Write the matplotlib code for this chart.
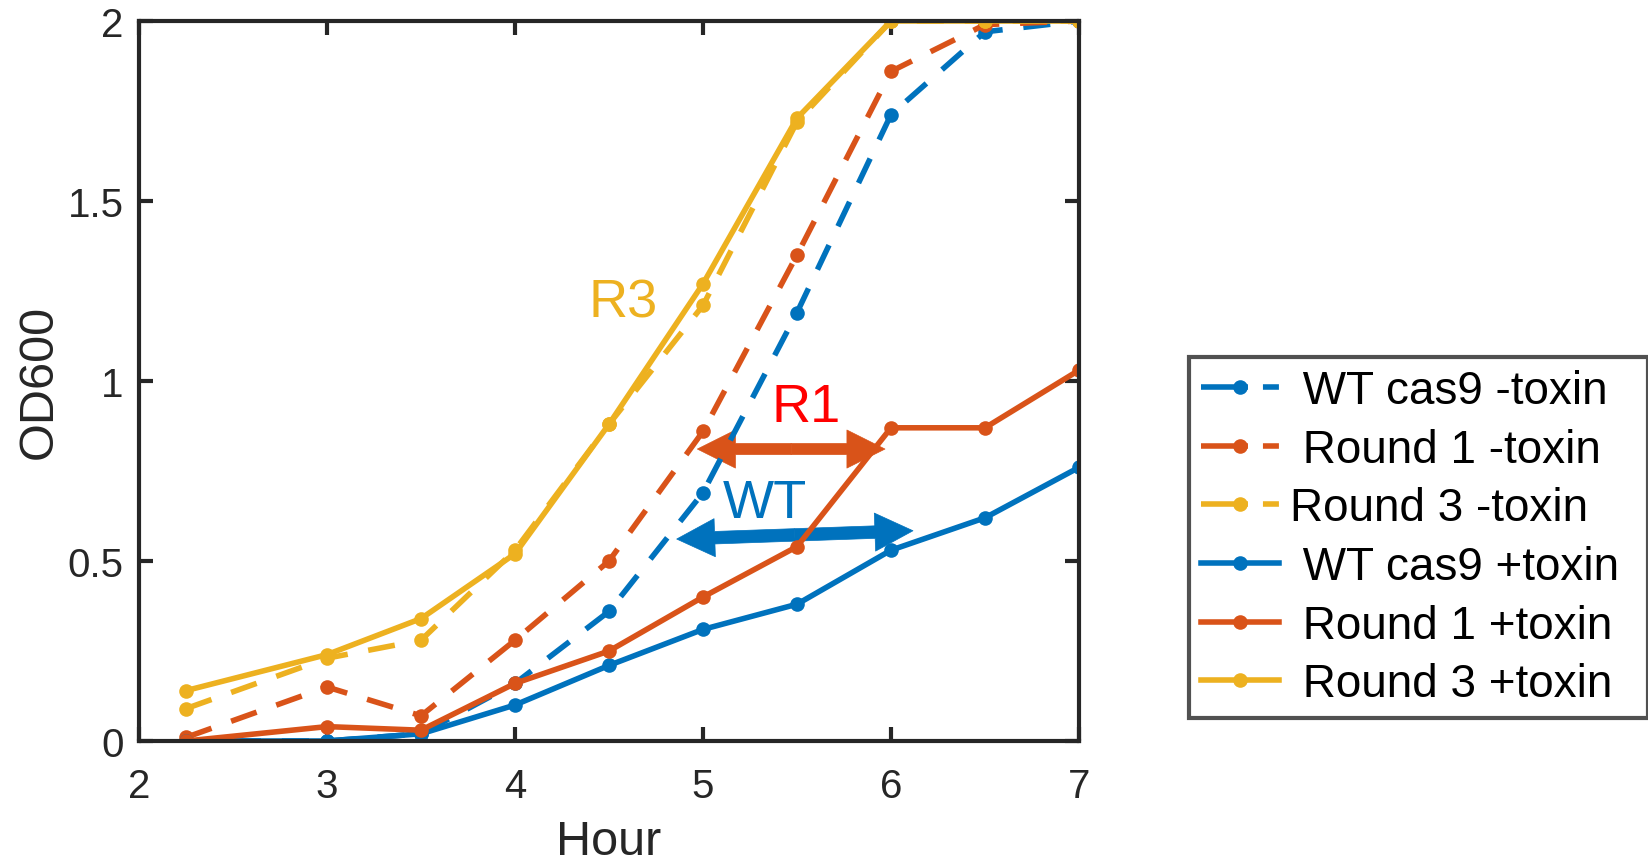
import matplotlib
matplotlib.use("Agg")
import matplotlib.pyplot as plt
from matplotlib.patches import FancyArrowPatch
from matplotlib.lines import Line2D

plt.rcParams['font.family'] = ['Liberation Sans', 'DejaVu Sans']
plt.rcParams['lines.scale_dashes'] = False

hours = [2.25, 3, 3.5, 4, 4.5, 5, 5.5, 6, 6.5, 7]
wt_minus = [0.0, 0.0, 0.02, 0.16, 0.36, 0.69, 1.19, 1.74, 1.97, 2.0]
r1_minus = [0.01, 0.15, 0.07, 0.28, 0.50, 0.86, 1.35, 1.86, 1.99, 2.0]
r3_minus = [0.09, 0.23, 0.28, 0.53, 0.88, 1.21, 1.72, 2.0, 2.0, 2.0]
wt_plus = [0.0, 0.0, 0.02, 0.10, 0.21, 0.31, 0.38, 0.53, 0.62, 0.76]
r1_plus = [0.0, 0.04, 0.03, 0.16, 0.25, 0.40, 0.54, 0.87, 0.87, 1.03]
r3_plus = [0.14, 0.24, 0.34, 0.52, 0.88, 1.27, 1.73, 2.0, 2.0, 2.0]

labels = [' WT cas9 -toxin', ' Round 1 -toxin', 'Round 3 -toxin',
          ' WT cas9 +toxin', ' Round 1 +toxin', ' Round 3 +toxin']

BLUE, ORANGE, YELLOW = '#0072BD', '#D95319', '#EDB120'
AX = '#262626'

fig = plt.figure(figsize=(16.49, 8.62), dpi=100)
ax = fig.add_axes([139/1649, 1-742/862, 940/1649, 720/862])

lw = 4.0
ms = 10.5
dash = (19.5, 15)
series = [
    (wt_minus, BLUE, True), (r1_minus, ORANGE, True), (r3_minus, YELLOW, True),
    (wt_plus, BLUE, False), (r1_plus, ORANGE, False), (r3_plus, YELLOW, False),
]
handles = []
for (vals, col, dashed), lab in zip(series, labels):
    kw = dict(color=col, lw=lw, marker='o', ms=ms, mew=0)
    if dashed:
        ax.plot(hours, vals, dashes=dash, **kw)
        handles.append(Line2D([], [], dashes=(33.8, 10.8, 11.5, 60), label=lab, **kw))
    else:
        ax.plot(hours, vals, **kw)
        handles.append(Line2D([], [], label=lab, **kw))

ax.set_xlim(2, 7)
ax.set_ylim(0, 2)
ax.set_xticks([2, 3, 4, 5, 6, 7])
ax.set_yticks([0, 0.5, 1, 1.5, 2])
ax.set_yticklabels(['0', '0.5', '1', '1.5', '2'])
for s in ax.spines.values():
    s.set_linewidth(3)
    s.set_color(AX)
ax.tick_params(direction='in', length=10, width=3, color=AX, labelcolor=AX,
               labelsize=29, top=True, right=True)
ax.tick_params(axis='x', pad=19)
ax.tick_params(axis='y', pad=11)

ax.set_xlabel('Hour', fontsize=35, color=AX)
ax.xaxis.set_label_coords(0.5, -0.108)
ax.xaxis.label.set_va('top')
ax.set_ylabel('OD600', fontsize=35, color=AX)
ax.yaxis.set_label_coords(-0.082, 0.5)

# annotations
ax.text(4.575, 1.218, 'R3', color=YELLOW, fontsize=39, ha='center', va='center')
ax.text(5.55, 0.927, 'R1', color='#FF0000', fontsize=39, ha='center', va='center')
ax.text(5.33, 0.662, 'WT', color=BLUE, fontsize=39, ha='center', va='center')

def double_arrow(x1, y1, x2, y2, col, tail):
    xm, ym = (x1 + x2) / 2, (y1 + y2) / 2
    style = f'simple,head_length=1.37,head_width=1.37,tail_width={tail}'
    for (xe, ye) in [(x1, y1), (x2, y2)]:
        p = FancyArrowPatch((xm, ym), (xe, ye), arrowstyle=style, mutation_scale=20,
                            color=col, lw=0.5, shrinkA=0, shrinkB=0)
        ax.add_patch(p)

double_arrow(4.97, 0.811, 5.968, 0.811, ORANGE, 0.4)
double_arrow(4.86, 0.561, 6.117, 0.584, BLUE, 0.45)

lx0 = 1189/1649
ly1 = 1-358/862
leg = fig.legend(handles=handles, loc='upper left',
                 bbox_to_anchor=(lx0, ly1 - 0.5, 1 - lx0 - 0.0005, 0.5), mode='expand',
                 fontsize=33,
                 handlelength=1.7, handletextpad=0.25, labelspacing=0.32,
                 borderpad=0.26, borderaxespad=0, fancybox=False,
                 frameon=True, numpoints=1)
fr = leg.get_frame()
fr.set_edgecolor(AX)
fr.set_linewidth(3)
for t in leg.get_texts():
    t.set_color('black')

fig.savefig('out.png', dpi=100)
